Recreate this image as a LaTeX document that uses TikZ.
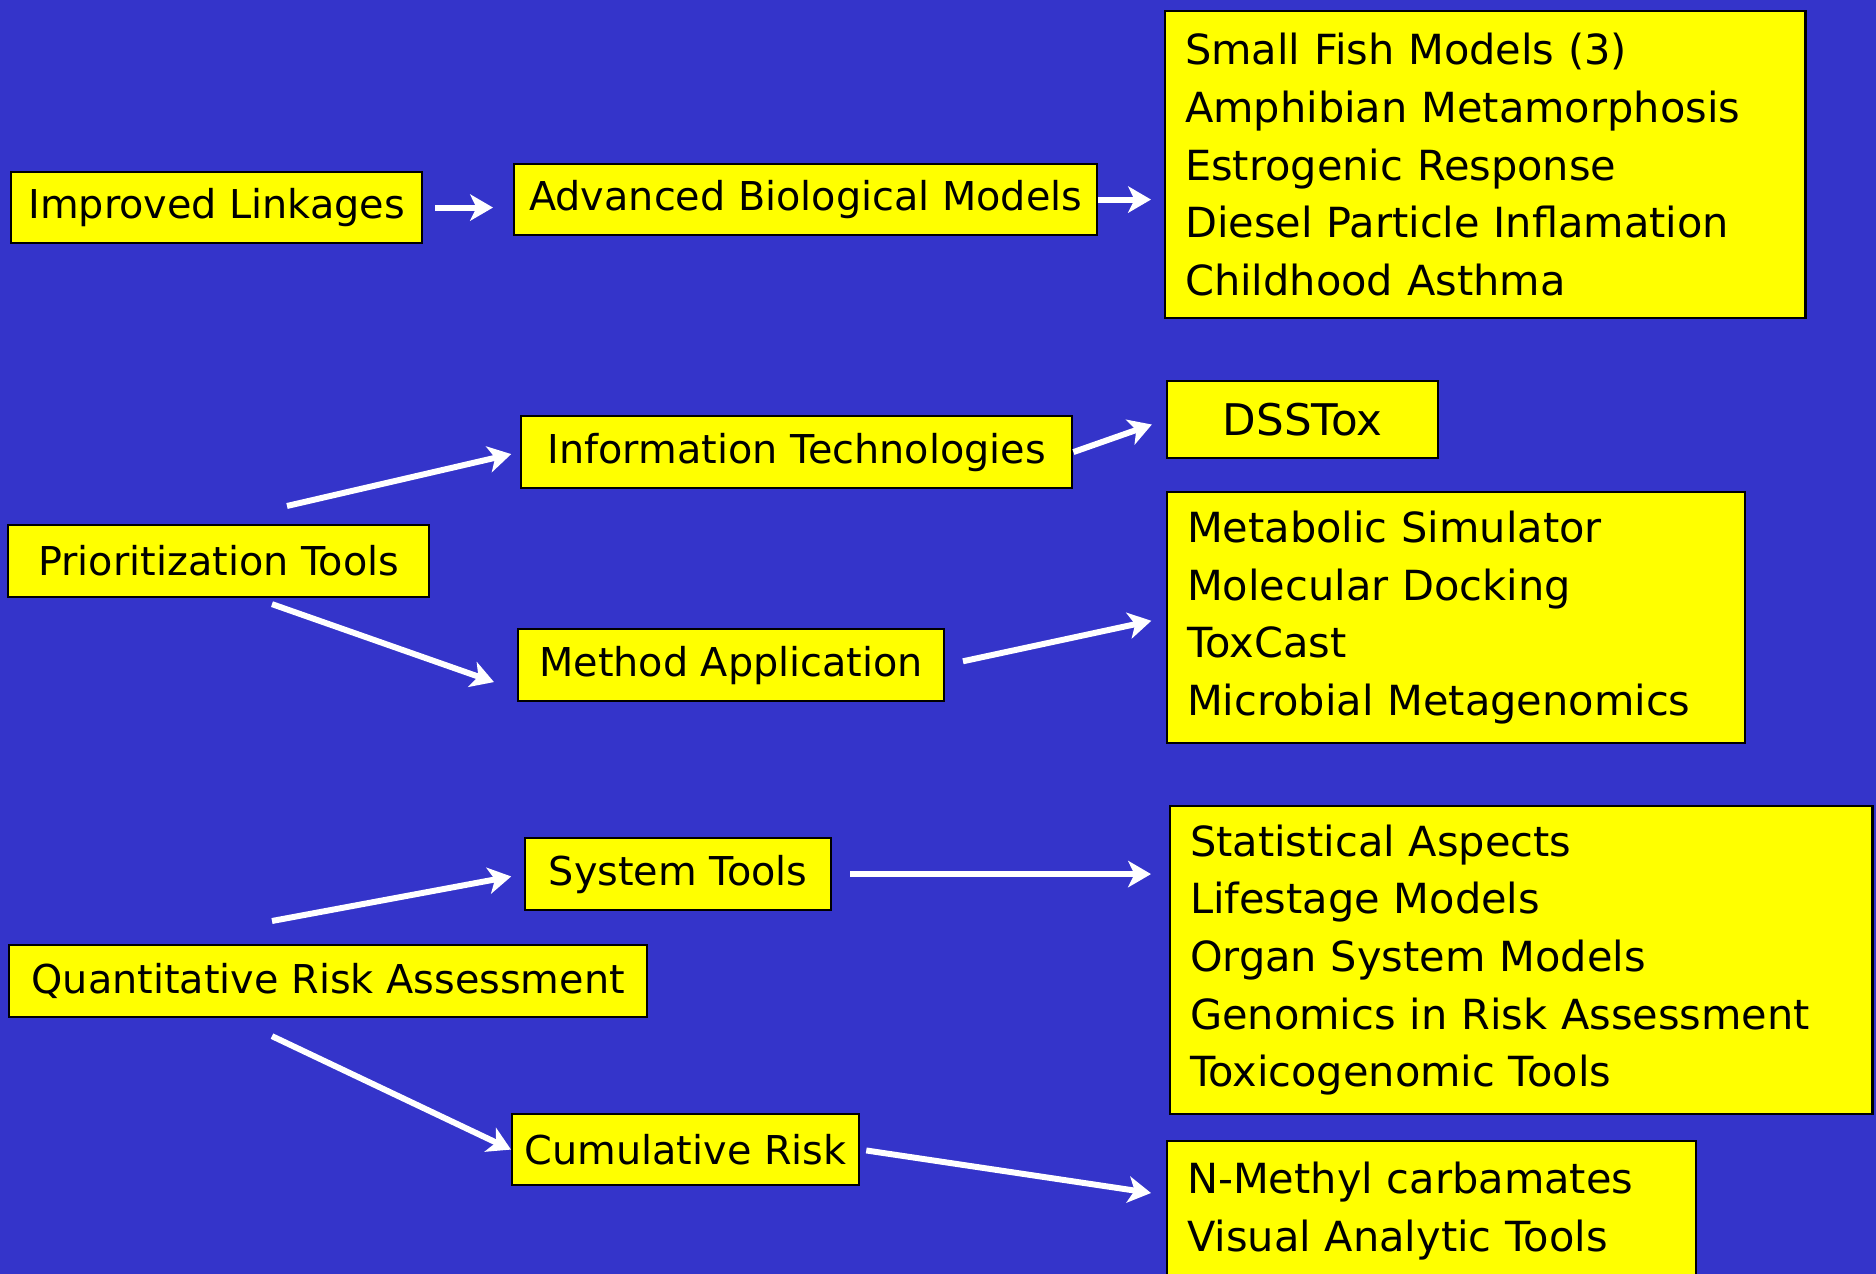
\documentclass[tikz,border=0pt]{standalone}
\usepackage{fontspec}
\setmainfont{DejaVu Sans}
\usepackage{tikz}
\usetikzlibrary{arrows.meta,positioning,calc}
\definecolor{slideblue}{HTML}{3434CA}
\definecolor{boxyellow}{HTML}{FFFF00}

\begin{document}
\begin{tikzpicture}[
  x=0.01cm,
  y=-0.01cm,
  box/.style={draw=black,fill=boxyellow,line width=0.6pt,anchor=north west,inner sep=0pt,
    font=\fontsize{11.3}{16.4}\selectfont,text=black},
  listbox/.style={box,align=left,inner xsep=0.2cm,font=\fontsize{11.8}{16.4}\selectfont},
  link/.style={draw=white,line width=1.7pt,-{Stealth[length=6.5pt,width=7.5pt,inset=1.8pt]}}
]
  \useasboundingbox (0,0) rectangle (1876,1274);
  \clip (0,0) rectangle (1876,1274);
  \fill[slideblue] (0,0) rectangle (1876,1274);

  \node[box,minimum width=4.11cm,minimum height=0.71cm] (links) at (10,171) {Improved Linkages};
  \node[box,minimum width=5.83cm,minimum height=0.71cm] (biomod) at (513,163) {Advanced Biological Models};
  \node[listbox,text width=6.00cm,minimum height=3.07cm] (fish) at (1164,10)
    {Small Fish Models (3)\\Amphibian Metamorphosis\\Estrogenic Response\\Diesel Particle Inflamation\\Childhood Asthma};

  \node[box,minimum width=5.51cm,minimum height=0.72cm] (infotech) at (520,415) {Information Technologies};
  \node[box,minimum width=2.71cm,minimum height=0.77cm,font=\fontsize{12.4}{16.4}\selectfont] (dsstox) at (1166,380) {DSSTox};
  \node[listbox,text width=5.38cm,minimum height=2.51cm] (metab) at (1166,491)
    {Metabolic Simulator\\Molecular Docking\\ToxCast\\Microbial Metagenomics};
  \node[box,minimum width=4.21cm,minimum height=0.72cm] (prio) at (7,524) {Prioritization Tools};
  \node[box,minimum width=4.26cm,minimum height=0.72cm] (method) at (517,628) {Method Application};

  \node[box,minimum width=3.06cm,minimum height=0.72cm] (systools) at (524,837) {System Tools};
  \node[listbox,text width=6.62cm,minimum height=3.08cm] (stats) at (1169,805)
    {Statistical Aspects\\Lifestage Models\\Organ System Models\\Genomics in Risk Assessment\\Toxicogenomic Tools};
  \node[box,minimum width=6.38cm,minimum height=0.72cm] (qra) at (8,944) {Quantitative Risk Assessment};
  \node[box,minimum width=3.47cm,minimum height=0.71cm] (cumrisk) at (511,1113) {Cumulative Risk};
  \node[listbox,text width=4.89cm,minimum height=1.40cm] (nmethyl) at (1166,1140)
    {N-Methyl carbamates\\Visual Analytic Tools};

  \coordinate (prio-up) at ($(prio.north west)+(280,-18)$);
  \coordinate (prio-dn) at ($(prio.south west)+(265,6)$);
  \coordinate (qra-up) at ($(qra.north west)+(264,-23)$);
  \coordinate (qra-dn) at ($(qra.south west)+(264,18)$);

  \draw[link,shorten <=0.12cm,shorten >=0.20cm] (links.east) -- (links.east -| biomod.west);
  \draw[link,shorten >=0.13cm] (biomod.east) -- (biomod.east -| fish.west);
  \draw[link,shorten >=0.15cm] (infotech.east) -- (dsstox.west);
  \draw[link,shorten >=0.09cm] (prio-up) -- (infotech.west);
  \draw[link] (prio-dn) -- ($(method.west)+(-23,17)$);
  \draw[link,shorten <=0.18cm,shorten >=0.15cm] (method.east) -- (metab.west);
  \draw[link,shorten >=0.13cm] (qra-up) -- (systools.west);
  \draw[link,shorten <=0.18cm,shorten >=0.18cm] (systools.east) -- (systools.east -| stats.west);
  \draw[link] (qra-dn) -- (cumrisk.west);
  \draw[link,shorten <=0.06cm] (cumrisk.east) -- ($(nmethyl.north west)+(-15,53)$);
\end{tikzpicture}
\end{document}
